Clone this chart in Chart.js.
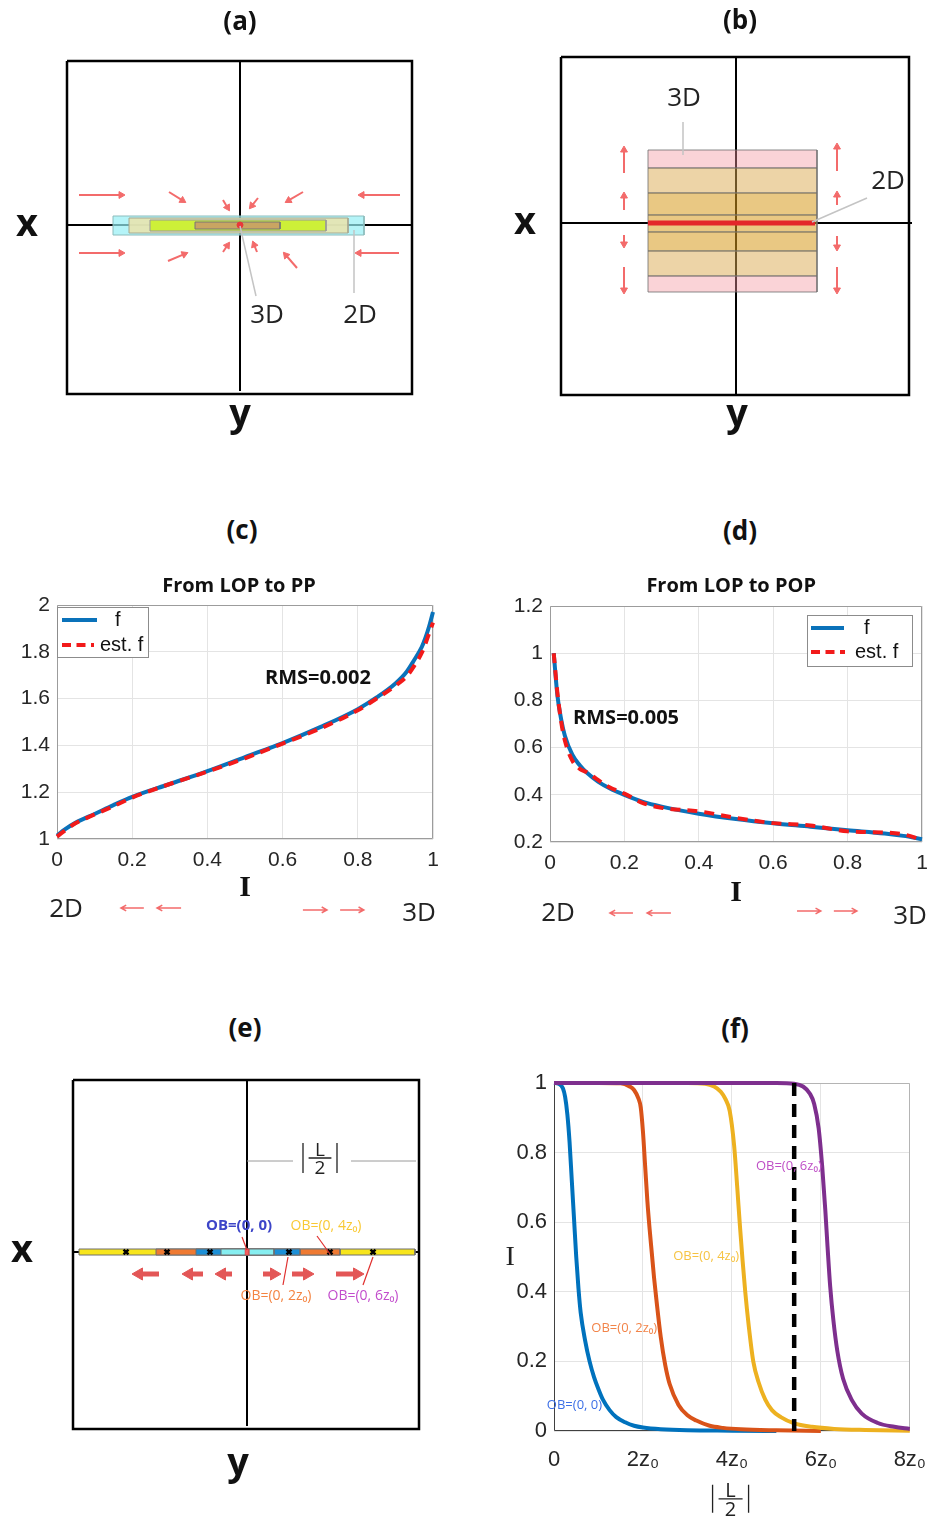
<!DOCTYPE html>
<html>
<head>
<meta charset="utf-8">
<title>LOP / PP / POP figure</title>
<script src="https://cdn.jsdelivr.net/npm/chart.js@4.4.1/dist/chart.umd.min.js"></script>
<style>
  html, body { margin: 0; padding: 0; background: #fff; width: 942px; height: 1517px; overflow: hidden; }
  canvas { position: absolute; }
  .t { position: absolute; transform: translate(-50%, -50%); font-family: "Open Sans", sans-serif; white-space: nowrap; color: #111; line-height: 1; }
  .panel { font-size: 26px; font-weight: bold; }
  .ax { font-size: 38px; font-weight: bold; }
  .dim { font-size: 26px; color: #222; }
</style>
</head>
<body>
<canvas id="chartA" width="470" height="450" style="left:0;top:0"></canvas>
<canvas id="chartB" width="471" height="450" style="left:471px;top:0"></canvas>
<canvas id="chartC" width="470" height="355" style="left:0;top:570px"></canvas>
<canvas id="chartD" width="471" height="355" style="left:471px;top:570px"></canvas>
<canvas id="chartE" width="470" height="457" style="left:0;top:1060px"></canvas>
<canvas id="chartF" width="471" height="457" style="left:471px;top:1060px"></canvas>

<div class="t panel" style="left:240px;top:20px">(a)</div>
<div class="t panel" style="left:740px;top:19px">(b)</div>
<div class="t panel" style="left:242px;top:529px">(c)</div>
<div class="t panel" style="left:740px;top:530px">(d)</div>
<div class="t panel" style="left:245px;top:1027px">(e)</div>
<div class="t panel" style="left:735px;top:1028px">(f)</div>

<div class="t ax" style="left:27px;top:221px">x</div>
<div class="t ax" style="left:240px;top:411px">y</div>
<div class="t ax" style="left:525px;top:219px">x</div>
<div class="t ax" style="left:737px;top:411px">y</div>
<div class="t ax" style="left:22px;top:1247px">x</div>
<div class="t ax" style="left:238px;top:1460px">y</div>

<div class="t dim" style="left:66px;top:907px">2D</div>
<div class="t dim" style="left:419px;top:911px">3D</div>
<div class="t dim" style="left:558px;top:911px">2D</div>
<div class="t dim" style="left:910px;top:914px">3D</div>

<script>
// ---------- (c) From LOP to PP ----------
const cI   = [0, 0.02, 0.05, 0.1, 0.15, 0.2, 0.3, 0.4, 0.5, 0.6, 0.7, 0.8, 0.85, 0.9, 0.93, 0.95, 0.97, 0.98, 0.99, 1];
const cF   = [1.015, 1.04, 1.07, 1.107, 1.145, 1.18, 1.235, 1.29, 1.35, 1.41, 1.478, 1.555, 1.605, 1.665, 1.715, 1.765, 1.82, 1.86, 1.91, 1.97];
const cEst = [1.01, 1.035, 1.068, 1.105, 1.14, 1.177, 1.235, 1.288, 1.345, 1.408, 1.472, 1.55, 1.6, 1.655, 1.695, 1.74, 1.795, 1.835, 1.88, 1.925];
const cArrows = [[0.231, 0.705, 0.170, 0.705], [0.330, 0.705, 0.266, 0.705], [0.654, 0.697, 0.718, 0.697], [0.753, 0.697, 0.816, 0.697]];

// ---------- (d) From LOP to POP ----------
const dI   = [0.01, 0.02, 0.03, 0.04, 0.06, 0.08, 0.1, 0.13, 0.16, 0.2, 0.25, 0.3, 0.4, 0.5, 0.6, 0.7, 0.8, 0.9, 0.95, 1];
const dF   = [1.0, 0.82, 0.72, 0.65, 0.57, 0.525, 0.492, 0.455, 0.428, 0.4, 0.37, 0.35, 0.32, 0.297, 0.279, 0.265, 0.25, 0.236, 0.226, 0.212];
const dEst = [1.0, 0.83, 0.71, 0.63, 0.545, 0.51, 0.495, 0.462, 0.432, 0.405, 0.365, 0.345, 0.33, 0.302, 0.28, 0.27, 0.245, 0.24, 0.232, 0.21];
const dArrows = [[0.223, -0.101, 0.161, -0.101], [0.325, -0.101, 0.261, -0.101], [0.664, -0.092, 0.728, -0.092], [0.763, -0.092, 0.825, -0.092]];

// ---------- (f) I versus |L/2| (units of z0) ----------
const fTickVals = [0, 2, 4, 6, 8];
const fTickText = ['0', '2z\u2080', '4z\u2080', '6z\u2080', '8z\u2080'];
const fBlueX   = [0, 0.1, 0.2, 0.25, 0.3, 0.35, 0.4, 0.45, 0.5, 0.55, 0.6, 0.7, 0.8, 0.9, 1.0, 1.1, 1.25, 1.4, 1.6, 1.8, 2.0, 2.4, 3.0, 4.0, 5.0];
const fBlueY   = [1.0, 0.998, 0.985, 0.96, 0.91, 0.83, 0.72, 0.61, 0.5, 0.41, 0.34, 0.26, 0.2, 0.155, 0.12, 0.09, 0.06, 0.04, 0.025, 0.015, 0.01, 0.005, 0.002, 0.001, 0.0];
const fOrangeX = [0, 1.0, 1.5, 1.7, 1.8, 1.9, 1.95, 2.0, 2.05, 2.1, 2.15, 2.2, 2.25, 2.3, 2.4, 2.5, 2.6, 2.8, 3.0, 3.2, 3.5, 3.8, 4.2, 5.0, 6.0];
const fOrangeY = [1, 1, 0.999, 0.99, 0.98, 0.955, 0.93, 0.86, 0.76, 0.66, 0.58, 0.51, 0.44, 0.38, 0.27, 0.19, 0.135, 0.075, 0.045, 0.03, 0.015, 0.009, 0.005, 0.002, 0.0];
const fYellowX = [0, 2.0, 3.0, 3.4, 3.6, 3.75, 3.85, 3.95, 4.05, 4.12, 4.18, 4.24, 4.3, 4.38, 4.48, 4.6, 4.75, 4.9, 5.1, 5.4, 5.8, 6.3, 7.0, 8.0];
const fYellowY = [1, 1, 1, 0.998, 0.99, 0.975, 0.955, 0.92, 0.82, 0.7, 0.59, 0.49, 0.4, 0.3, 0.2, 0.14, 0.09, 0.06, 0.04, 0.022, 0.012, 0.006, 0.003, 0.001];
const fPurpleX = [0, 2, 4, 5.0, 5.4, 5.6, 5.75, 5.85, 5.95, 6.03, 6.1, 6.15, 6.21, 6.28, 6.37, 6.5, 6.7, 6.92, 7.28, 7.65, 8.0];
const fPurpleY = [1, 1, 1, 1, 0.998, 0.99, 0.97, 0.94, 0.87, 0.76, 0.635, 0.53, 0.415, 0.32, 0.23, 0.15, 0.088, 0.05, 0.023, 0.012, 0.006];
const fCutoff = 5.4;

// ---------- (a) sketch, pixel units around the axes origin ----------
const aExt = [-240, 230, -225, 225];
const aBox = [-173, 164, 172, -169];
const aAxes = [[-173, 0, 172, 0], [0, 164, 0, -166]];
const aLayers = [[-127, 9, 124, -10], [-111, 7, 108, -8], [-90, 5, 86, -6], [-45, 3, 40, -4]];
const aArrows = [
  [-161, 30, -116, 30], [-71, 33, -55, 23], [-17, 25, -11, 15], [18, 27, 10, 17], [63, 33, 46, 23], [160, 30, 119, 30],
  [-161, -28, -116, -28], [-72, -36, -53, -28], [-17, -27, -11, -18], [17, -27, 13, -17], [57, -43, 44, -28], [159, -28, 116, -28]
];
const aLeaders = [[0, -1, 16, -71], [114, -5, 114, -68]];

// ---------- (b) sketch ----------
const bExt = [-265, 206, -227, 223];
const bBox = [-175, 166, 173, -172];
const bAxes = [[-175, 0, 176, 0], [0, 167, 0, -172]];
const bLayers = [[-88, 73, 81, 55], [-88, 55, 81, 30], [-88, 30, 81, 8], [-88, 8, 81, -9], [-88, -9, 81, -28], [-88, -28, 81, -53], [-88, -53, 81, -69]];
const bCore = [-88, 0, 79, 0];
const bArrows = [
  [-112, 50, -112, 76], [-112, 13, -112, 30], [-112, -12, -112, -24], [-112, -44, -112, -70],
  [101, 52, 101, 79], [101, 18, 101, 31], [101, -13, 101, -27], [101, -44, 101, -70]
];
const bLeaders = [[-53, 101, -53, 68], [131, 25, 76, 1]];

// ---------- (e) sketch ----------
const eExt = [-247, 223, -265, 192];
const eBox = [-174, 172, 172, -177];
const eAxes = [[-174, 0, 172, 0], [0, 172, 0, -174]];
const eBars = [[-168, 3, 168, -3], [-91, 3, 93, -3], [-51, 3, 53, -3], [-26, 3, 27, -3]];
const eCenter = [-2, 3, 2, -3];
const eMarks = [-121, -80, -37, 42, 83, 126];
const eScale = [[0, 91, 46, 91], [104, 91, 169, 91]];
const eLeaders = [[-5, 15, 0, 2], [70, 16, 83, -2], [36, -33, 41, -5], [116, -33, 126, -5]];
const eArrows = [[-88, -22, -114, -22], [-44, -22, -64, -22], [-15, -22, -31, -22], [16, -22, 33, -22], [45, -22, 66, -22], [89, -22, 116, -22]];

// colours
const BLUE = '#0a72ba', RED = '#f21a1a', ARROW = '#f36b6b';
const aLayerFill = ['rgba(150,240,245,0.7)', 'rgba(232,228,176,0.9)', 'rgba(204,240,50,0.95)', 'rgba(200,160,100,0.95)'];
const aLayerEdge = ['#8cbcbc', '#a8a890', '#999999', '#777777'];
const bPink = 'rgba(244,150,160,0.42)', bLight = 'rgba(220,170,80,0.5)', bTan = 'rgba(215,155,30,0.55)';
const bLayerFill = [bPink, bLight, bTan, bTan, bTan, bLight, bPink];
const eBarFill = ['#f7e51c', '#ef7a32', '#1c8fd6', '#86eef0'];

Chart.defaults.font.family = '"Liberation Sans", Arial, sans-serif';
Chart.defaults.color = '#262626';

// ---------- helpers ----------
const pts = (xs, ys) => xs.map((x, i) => ({ x: x, y: ys[i] }));
const box = r => [{ x: r[0], y: r[1] }, { x: r[2], y: r[1] }, { x: r[2], y: r[3] }, { x: r[0], y: r[3] }, { x: r[0], y: r[1] }];
const seg = s => [{ x: s[0], y: s[1] }, { x: s[2], y: s[3] }];
const plain = v => String(Math.round(v * 100) / 100);

function rectSet(r, fill, stroke, w) {
  return { data: box(r), fill: 'shape', backgroundColor: fill, borderColor: stroke, borderWidth: w };
}
function frameSet(r, w) {
  return { data: box(r), fill: false, borderColor: '#000', borderWidth: w, borderJoinStyle: 'miter' };
}
function lineSet(s, color, w) {
  return { data: seg(s), fill: false, borderColor: color, borderWidth: w };
}
// tail -> tip; "back" pulls the triangle centre back from the tip
function arrowSet(s, color, w, head, back) {
  const [x1, y1, x2, y2] = s;
  const len = Math.hypot(x2 - x1, y2 - y1);
  const k = back ? (len - back) / len : 1;
  return {
    data: [{ x: x1, y: y1 }, { x: x1 + (x2 - x1) * k, y: y1 + (y2 - y1) * k }],
    fill: false, clip: false, borderColor: color, borderWidth: w, borderCapStyle: 'butt',
    pointRadius: [0, head], pointStyle: 'triangle',
    pointRotation: Math.atan2(x2 - x1, y2 - y1) * 180 / Math.PI,
    pointBackgroundColor: color, pointBorderColor: color, pointBorderWidth: 1
  };
}
// later entries are painted on top
function stack(sets) {
  sets.forEach((d, i) => { d.order = sets.length - i; });
  return sets;
}

// text, thin arrows and the |L/2| fraction, placed in data units
const notesPlugin = {
  id: 'notes',
  afterDatasetsDraw(chart, args, opts) {
    const { ctx } = chart;
    const sx = chart.scales.x, sy = chart.scales.y;
    (opts.items || []).forEach(n => {
      ctx.save();
      ctx.fillStyle = n.color || '#222';
      ctx.strokeStyle = n.color || '#222';
      if (n.arrow) {
        const [x1, y1, x2, y2] = n.arrow;
        const p1x = sx.getPixelForValue(x1), p1y = sy.getPixelForValue(y1);
        const p2x = sx.getPixelForValue(x2), p2y = sy.getPixelForValue(y2);
        const ang = Math.atan2(p2y - p1y, p2x - p1x);
        ctx.lineWidth = n.width || 1.5;
        ctx.beginPath();
        ctx.moveTo(p1x, p1y); ctx.lineTo(p2x, p2y);
        ctx.moveTo(p2x - 6 * Math.cos(ang - 0.5), p2y - 6 * Math.sin(ang - 0.5));
        ctx.lineTo(p2x, p2y);
        ctx.lineTo(p2x - 6 * Math.cos(ang + 0.5), p2y - 6 * Math.sin(ang + 0.5));
        ctx.stroke();
        ctx.restore();
        return;
      }
      const px = sx.getPixelForValue(n.x), py = sy.getPixelForValue(n.y);
      ctx.textAlign = n.align || 'center';
      ctx.textBaseline = 'middle';
      if (n.frac) {
        const s = n.size;
        ctx.font = s + 'px "Open Sans", sans-serif';
        ctx.fillText('L', px, py - s * 0.4);
        ctx.fillText('2', px, py + s * 0.55);
        ctx.lineWidth = 1.3;
        ctx.beginPath();
        ctx.moveTo(px - s * 0.6, py); ctx.lineTo(px + s * 0.6, py);
        ctx.moveTo(px - n.barX, py - n.barH); ctx.lineTo(px - n.barX, py + n.barH);
        ctx.moveTo(px + n.barX, py - n.barH); ctx.lineTo(px + n.barX, py + n.barH);
        ctx.stroke();
      } else {
        ctx.font = n.font || '26px "Open Sans", sans-serif';
        ctx.fillText(n.text, px, py);
      }
      ctx.restore();
    });
  }
};

// box round the axes (MATLAB style)
const framePlugin = {
  id: 'frame',
  beforeDatasetsDraw(chart, args, opts) {
    if (!opts.color) return;
    const { ctx, chartArea: a } = chart;
    const l = Math.round(a.left) + 0.5, r = Math.round(a.right) - 0.5, t = Math.round(a.top) + 0.5, b = Math.round(a.bottom) - 0.5;
    ctx.save();
    ctx.lineWidth = opts.width || 1;
    ctx.strokeStyle = opts.far || opts.color;
    ctx.beginPath(); ctx.moveTo(l, t); ctx.lineTo(r, t); ctx.lineTo(r, b); ctx.stroke();
    ctx.strokeStyle = opts.color;
    ctx.beginPath(); ctx.moveTo(l, t); ctx.lineTo(l, b); ctx.lineTo(r, b); ctx.stroke();
    ctx.restore();
  }
};

// legend drawn inside the axes with a border
const boxLegend = {
  id: 'boxLegend',
  afterDatasetsDraw(chart, args, opts) {
    if (!opts.rows) return;
    const { ctx } = chart;
    const x0 = Math.round(chart.scales.x.getPixelForValue(opts.x)), y0 = Math.round(chart.scales.y.getPixelForValue(opts.y));
    ctx.save();
    ctx.fillStyle = '#fff';
    ctx.fillRect(x0, y0, opts.w, opts.h);
    ctx.strokeStyle = '#8c8c8c'; ctx.lineWidth = 1;
    ctx.strokeRect(x0 + 0.5, y0 + 0.5, opts.w, opts.h);
    ctx.font = '20px "Liberation Sans", Arial, sans-serif';
    ctx.textBaseline = 'middle'; ctx.textAlign = 'left';
    opts.rows.forEach(r => {
      const ds = chart.data.datasets[r.dataset];
      ctx.strokeStyle = ds.borderColor; ctx.lineWidth = ds.borderWidth;
      ctx.setLineDash(ds.borderDash ? [9, 5.5] : []);
      ctx.beginPath(); ctx.moveTo(x0 + r.line[0], y0 + r.dy); ctx.lineTo(x0 + r.line[1], y0 + r.dy); ctx.stroke();
      ctx.setLineDash([]);
      ctx.fillStyle = '#111';
      ctx.fillText(ds.label, x0 + r.tx, y0 + r.dy);
    });
    ctx.restore();
  }
};

function diagram(id, ext, datasets, notes) {
  return new Chart(document.getElementById(id), {
    type: 'line',
    data: { datasets: stack(datasets) },
    options: {
      responsive: false, animation: false, events: [],
      layout: { padding: 0, autoPadding: false },
      elements: { point: { radius: 0 }, line: { tension: 0 } },
      scales: {
        x: { type: 'linear', display: false, min: ext[0], max: ext[1] },
        y: { type: 'linear', display: false, min: ext[2], max: ext[3] }
      },
      plugins: { legend: { display: false }, tooltip: { enabled: false }, notes: { items: notes } }
    },
    plugins: [notesPlugin]
  });
}

function plot(id, o) {
  const tickFont = { family: '"Liberation Sans", Arial, sans-serif', size: o.tickSize };
  return new Chart(document.getElementById(id), {
    type: 'line',
    data: { datasets: o.datasets },
    options: {
      responsive: false, animation: false, events: [],
      layout: { padding: o.pad, autoPadding: false },
      elements: { point: { radius: 0 }, line: { tension: 0 } },
      scales: {
        x: {
          type: 'linear', min: o.x[0], max: o.x[1],
          afterFit: s => { s.height = o.xh; },
          ticks: { stepSize: o.x[2], padding: o.xPad, font: tickFont, color: '#262626', maxRotation: 0, autoSkip: false, callback: o.xFmt || plain },
          grid: { color: '#e4e4e4', drawTicks: false },
          border: { display: false },
          title: o.xTitle
            ? { display: true, text: o.xTitle, color: '#111', padding: 0, font: { family: '"Liberation Serif", "Times New Roman", serif', size: 30, weight: 'bold' } }
            : { display: false }
        },
        y: {
          type: 'linear', min: o.y[0], max: o.y[1],
          afterFit: s => { s.width = o.yw; },
          ticks: { stepSize: o.y[2], padding: 7, font: tickFont, color: '#262626', autoSkip: false, callback: plain },
          grid: { color: '#e4e4e4', drawTicks: false },
          border: { display: false }
        }
      },
      plugins: {
        legend: { display: false }, tooltip: { enabled: false },
        frame: o.frame, notes: { items: o.notes }, boxLegend: o.legend || {}
      }
    },
    plugins: [framePlugin, notesPlugin, boxLegend]
  });
}

// ---------- (a) ----------
diagram('chartA', aExt, [
  ...aAxes.map(s => lineSet(s, '#000', 2)),
  ...aLayers.map((r, i) => rectSet(r, aLayerFill[i], aLayerEdge[i], 1)),
  { data: [{ x: 0, y: 0 }], showLine: false, pointRadius: 3, pointBackgroundColor: '#e8383a', pointBorderColor: '#e8383a' },
  ...aLeaders.map(s => lineSet(s, '#c4c4c4', 1.5)),
  ...aArrows.map(s => arrowSet(s, ARROW, 2, 4, 3)),
  frameSet(aBox, 2.5)
], [
  { text: '3D', x: 27, y: -91 },
  { text: '2D', x: 120, y: -91 }
]);

// ---------- (b) ----------
diagram('chartB', bExt, [
  ...bAxes.map(s => lineSet(s, '#000', 2)),
  ...bLayers.map((r, i) => rectSet(r, bLayerFill[i], 'rgba(110,110,110,0.8)', 1)),
  lineSet(bCore, '#e3262a', 5),
  ...bLeaders.map(s => lineSet(s, '#c4c4c4', 1.5)),
  ...bArrows.map(s => arrowSet(s, ARROW, 2, 4, 3)),
  frameSet(bBox, 2.5)
], [
  { text: '3D', x: -52, y: 124 },
  { text: '2D', x: 152, y: 41 }
]);

// ---------- (c) ----------
const boldNote = 'bold 20px "Open Sans", sans-serif';
plot('chartC', {
  datasets: [
    { label: 'f', data: pts(cI, cF), borderColor: BLUE, borderWidth: 4, fill: false, clip: 3, cubicInterpolationMode: 'monotone', order: 2 },
    { label: 'est. f', data: pts(cI, cEst), borderColor: RED, borderWidth: 4, borderDash: [10, 7], fill: false, clip: 3, cubicInterpolationMode: 'monotone', order: 1 }
  ],
  x: [0, 1, 0.2], y: [1, 2, 0.2],
  pad: { top: 35, right: 37, bottom: 19, left: 0 }, xh: 67, yw: 57, xPad: 9, tickSize: 21,
  xTitle: 'I',
  frame: { color: '#9c9c9c' },
  legend: { x: 0, y: 1.991, w: 91, h: 50, rows: [{ dataset: 0, dy: 13, tx: 58, line: [5, 40] }, { dataset: 1, dy: 38, tx: 43, line: [5, 37] }] },
  notes: [
    { text: 'From LOP to PP', x: 0.484, y: 2.081, font: boldNote, color: '#111' },
    { text: 'RMS=0.002', x: 0.553, y: 1.688, align: 'left', font: boldNote, color: '#111' },
    ...cArrows.map(a => ({ arrow: a, color: ARROW, width: 1.5 }))
  ]
});

// ---------- (d) ----------
plot('chartD', {
  datasets: [
    { label: 'f', data: pts(dI, dF), borderColor: BLUE, borderWidth: 4, fill: false, clip: 3, cubicInterpolationMode: 'monotone', order: 2 },
    { label: 'est. f', data: pts(dI, dEst), borderColor: RED, borderWidth: 4, borderDash: [10, 7], fill: false, clip: 3, cubicInterpolationMode: 'monotone', order: 1 }
  ],
  x: [0, 1, 0.2], y: [0.2, 1.2, 0.2],
  pad: { top: 36, right: 20, bottom: 14, left: 0 }, xh: 69, yw: 79, xPad: 9, tickSize: 21,
  xTitle: 'I',
  frame: { color: '#9c9c9c' },
  legend: { x: 0.691, y: 1.162, w: 105, h: 51, rows: [{ dataset: 0, dy: 13, tx: 57, line: [4, 37] }, { dataset: 1, dy: 37, tx: 48, line: [4, 38] }] },
  notes: [
    { text: 'From LOP to POP', x: 0.487, y: 1.285, font: boldNote, color: '#111' },
    { text: 'RMS=0.005', x: 0.062, y: 0.725, align: 'left', font: boldNote, color: '#111' },
    ...dArrows.map(a => ({ arrow: a, color: ARROW, width: 1.5 }))
  ]
});

// ---------- (e) ----------
const obFont = '14px "Open Sans", sans-serif';
diagram('chartE', eExt, [
  ...eAxes.map(s => lineSet(s, '#000', 2)),
  ...eBars.map((r, i) => rectSet(r, eBarFill[i], '#6e6e6e', 1)),
  rectSet(eCenter, '#f26060', '#c04040', 0.5),
  { data: eMarks.map(x => ({ x: x, y: 0 })), showLine: false, pointStyle: 'crossRot', pointRadius: 3.5, pointBorderWidth: 2.5, pointBorderColor: '#000' },
  ...eScale.map(s => lineSet(s, '#9a9a9a', 1)),
  ...eLeaders.map(s => lineSet(s, '#e0302f', 1.2)),
  ...eArrows.map(s => arrowSet(s, '#e35656', 5, 7, 6)),
  frameSet(eBox, 2.5)
], [
  { frac: true, x: 73, y: 94, size: 19, barX: 17, barH: 15, color: '#222' },
  { text: 'OB=(0, 0)', x: -8, y: 26, font: 'bold 15px "Open Sans", sans-serif', color: '#3d45c8' },
  { text: 'OB=(0, 4z\u2080)', x: 79, y: 26, font: obFont, color: '#f9c934' },
  { text: 'OB=(0, 2z\u2080)', x: 29, y: -44, font: obFont, color: '#f48442' },
  { text: 'OB=(0, 6z\u2080)', x: 116, y: -44, font: obFont, color: '#c24ccc' }
]);

// ---------- (f) ----------
const curveStyle = { borderWidth: 4, fill: false, clip: 3, cubicInterpolationMode: 'monotone' };
const fSmall = '13px "Open Sans", sans-serif';
plot('chartF', {
  datasets: stack([
    Object.assign({ label: 'OB=(0, 0)', data: pts(fBlueX, fBlueY), borderColor: '#0072bd' }, curveStyle),
    Object.assign({ label: 'OB=(0, 2z0)', data: pts(fOrangeX, fOrangeY), borderColor: '#d95319' }, curveStyle),
    Object.assign({ label: 'OB=(0, 4z0)', data: pts(fYellowX, fYellowY), borderColor: '#edb120' }, curveStyle),
    Object.assign({ label: 'OB=(0, 6z0)', data: pts(fPurpleX, fPurpleY), borderColor: '#7e2f8e' }, curveStyle),
    { label: 'cut', data: [{ x: fCutoff, y: 1 }, { x: fCutoff, y: 0 }], borderColor: '#000', borderWidth: 4.5, borderDash: [13, 8], fill: false, clip: 3 }
  ]),
  x: [0, 8, 2], y: [0, 1, 0.2],
  pad: { top: 23, right: 23, bottom: 0, left: 0 }, xh: 86, yw: 83, xPad: 16, tickSize: 22,
  xFmt: v => fTickText[fTickVals.indexOf(v)],
  frame: { color: '#404040', far: '#b4b4b4' },
  notes: [
    { text: 'I', x: -0.986, y: 0.497, font: '28px "Liberation Serif", "Times New Roman", serif', color: '#222' },
    { frac: true, x: 3.97, y: -0.195, size: 20, barX: 18, barH: 14, color: '#222' },
    { text: 'OB=(0, 6z\u2080)', x: 5.28, y: 0.761, font: fSmall, color: '#bf4fc6' },
    { text: 'OB=(0, 4z\u2080)', x: 3.42, y: 0.503, font: fSmall, color: '#f6c342' },
    { text: 'OB=(0, 2z\u2080)', x: 1.58, y: 0.296, font: fSmall, color: '#f28449' },
    { text: 'OB=(0, 0)', x: 0.46, y: 0.075, font: fSmall, color: '#3c6fe6' }
  ]
});
</script>
</body>
</html>
